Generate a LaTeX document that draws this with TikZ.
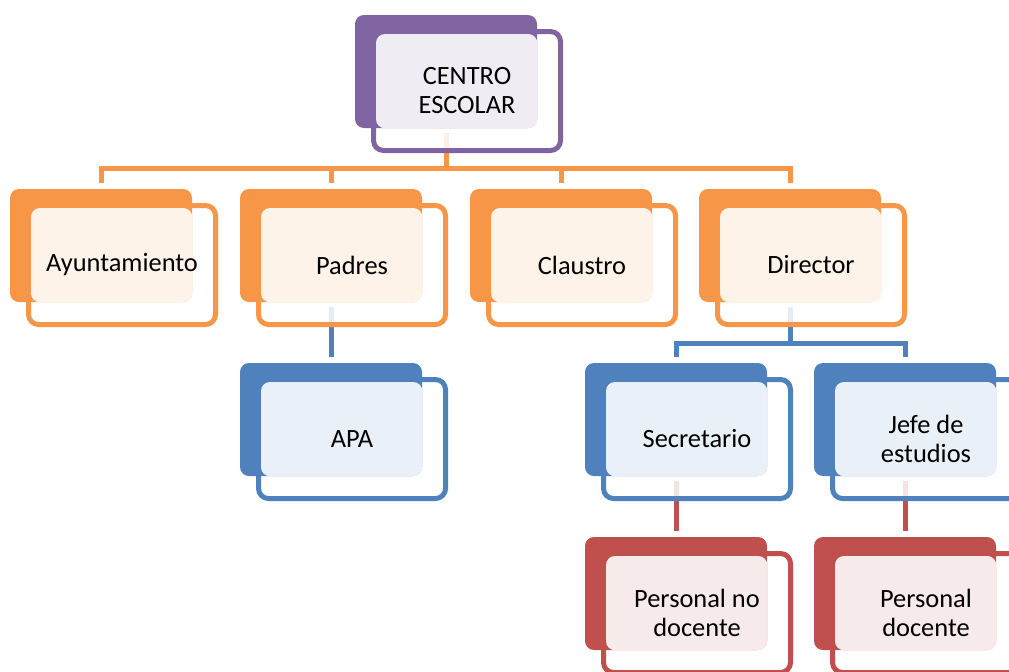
\documentclass[tikz,border=0pt]{standalone}
\usepackage{fontspec}
\setmainfont{Carlito}
\usetikzlibrary{backgrounds}

\definecolor{violeta}{HTML}{8064A2}
\definecolor{naranja}{HTML}{F79646}
\definecolor{azul}{HTML}{4F81BD}
\definecolor{rojo}{HTML}{C0504D}

\tikzset{
  marco/.style={draw, line width=3.75pt, fill=white, fill opacity=0.85, rounded corners=7.5pt,
    minimum width=140.25pt, minimum height=89.25pt, inner sep=0pt},
  bloque/.style={rounded corners=6.75pt, minimum width=136.5pt, minimum height=84.75pt, inner sep=0pt},
  texto/.style={align=center, font=\fontsize{19.8}{21.75}\selectfont, text=black},
  enlace/.style={line width=3.75pt}
}

% caja: name, colour, corner x, corner y, text
\newcommand{\caja}[5]{
  \node[marco, draw=#2] (#1-m) at (#3+112,#4+76) {};
  \node[bloque, fill=#2] (#1) at (#3+91,#4+56.5) {};
  \fill[#2!12, rounded corners=6.75pt] ([shift={(3.75pt,-3.75pt)}]#1-m.north west) rectangle (#1.south east);
  \node[texto] at (#1-m) {#5};
}

\begin{document}
\begin{tikzpicture}[x=0.75pt, y=-0.75pt]
\path[use as bounding box, clip] (0,0) rectangle (1009,671);

\caja{centro}{violeta}{355}{15}{CENTRO\\ESCOLAR}

\caja{ayuntamiento}{naranja}{10}{189}{Ayuntamiento}
\caja{padres}{naranja}{240}{189}{Padres}
\caja{claustro}{naranja}{470}{189}{Claustro}
\caja{director}{naranja}{699}{189}{Director}

\caja{apa}{azul}{240}{363}{APA}
\caja{secretario}{azul}{585}{363}{Secretario}
\caja{jefe}{azul}{814}{363}{Jefe de\\estudios}

\caja{nodocente}{rojo}{585}{537}{Personal no\\docente}
\caja{docente}{rojo}{814}{537}{Personal\\docente}

% connectors
\begin{scope}[on background layer]
\coordinate (bus1) at (446,168);
\draw[enlace, naranja] ([yshift=-3.75pt]centro.south) -- (bus1);
\draw[enlace, naranja] ([yshift=4.5pt]ayuntamiento.north) |- (bus1) -| ([yshift=4.5pt]director.north);
\draw[enlace, naranja] ([yshift=4.5pt]padres.north) -- (padres.north |- bus1);
\draw[enlace, naranja] ([yshift=4.5pt]claustro.north) -- (claustro.north |- bus1);

\draw[enlace, azul] ([yshift=-3.75pt]padres.south) -- ([yshift=4.5pt]apa.north);
\coordinate (bus2) at (director.south |- 0,343);
\draw[enlace, azul] ([yshift=-3.75pt]director.south) -- (bus2);
\draw[enlace, azul] ([yshift=4.5pt]secretario.north) |- (bus2) -| ([yshift=4.5pt]jefe.north);

\draw[enlace, rojo] ([yshift=-3.75pt]secretario.south) -- ([yshift=4.5pt]nodocente.north);
\draw[enlace, rojo] ([yshift=-3.75pt]jefe.south) -- ([yshift=4.5pt]docente.north);
\end{scope}
\end{tikzpicture}
\end{document}
